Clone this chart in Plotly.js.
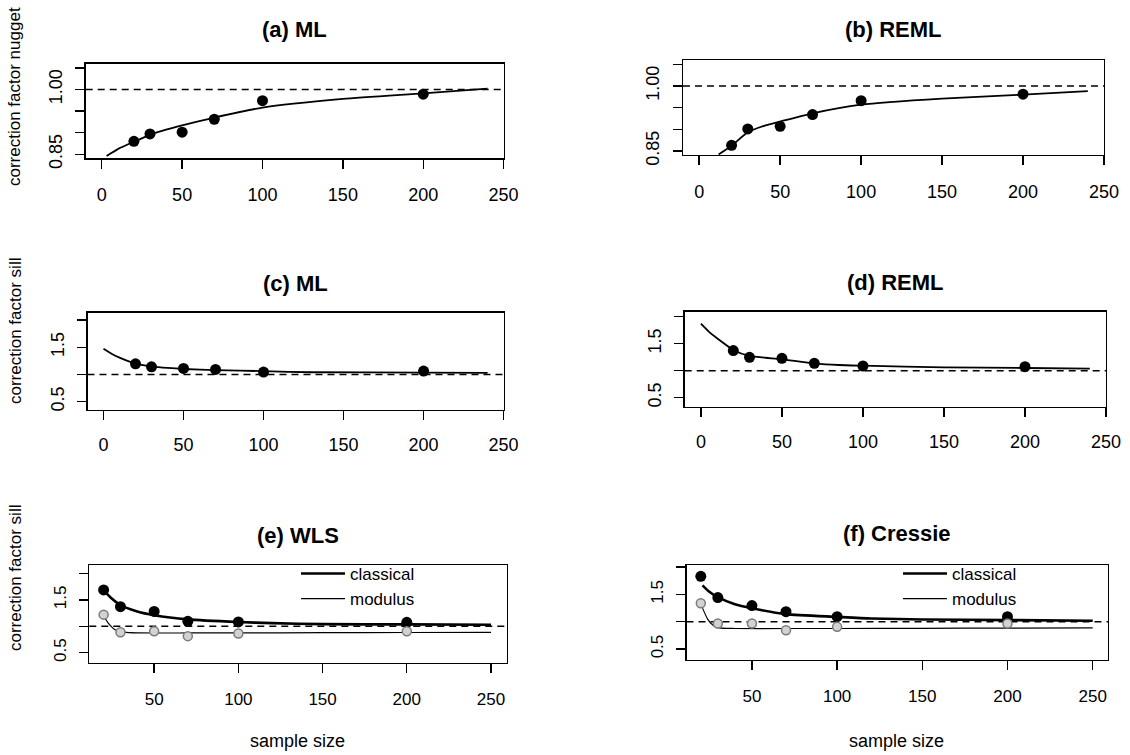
<!DOCTYPE html>
<html>
<head>
<meta charset="utf-8">
<script src="https://cdn.plot.ly/plotly-3.0.1.min.js"></script>
<style>html,body{margin:0;padding:0;background:#fff;}#chart{width:1130px;height:755px;}</style>
</head>
<body>
<div id="chart"></div>
<script>
// ---------------- data ----------------
const sampleSizes = [20, 30, 50, 70, 100, 200];
const referenceLevel = 1.0;

const panelTitles = ["(a) ML", "(b) REML", "(c) ML", "(d) REML", "(e) WLS", "(f) Cressie"];
const yTitleNugget = "correction factor nugget";
const yTitleSill = "correction factor sill";
const xTitle = "sample size";
const legendNames = ["classical", "modulus"];

const xTickValsFull = [0, 50, 100, 150, 200, 250];
const xTickValsBottom = [50, 100, 150, 200, 250];
const xTickTextFull = ["0", "50", "100", "150", "200", "250"];
const xTickTextBottom = ["50", "100", "150", "200", "250"];
const yTickValsNugget = [0.85, 0.90, 0.95, 1.00, 1.05];
const yTickTextNugget = ["0.85", "", "", "1.00", ""];
const yTickValsSill = [0.5, 1.0, 1.5, 2.0];
const yTickTextSill = ["0.5", "", "1.5", ""];

// (a) ML nugget
const mlNuggetPts = [0.880, 0.897, 0.901, 0.931, 0.974, 0.989];
const mlNuggetCurveX = [3, 10, 20, 30, 40, 50, 70, 100, 150, 200, 240];
const mlNuggetCurveY = [0.846, 0.862, 0.879, 0.895, 0.907, 0.917, 0.935, 0.958, 0.978, 0.991, 1.002];
// (b) REML nugget
const remlNuggetPts = [0.863, 0.901, 0.907, 0.934, 0.966, 0.981];
const remlNuggetCurveX = [12, 20, 30, 40, 50, 70, 100, 150, 200, 240];
const remlNuggetCurveY = [0.842, 0.862, 0.893, 0.908, 0.918, 0.937, 0.957, 0.971, 0.980, 0.988];
// (c) ML sill
const mlSillPts = [1.196, 1.141, 1.110, 1.092, 1.043, 1.061];
const mlSillCurveX = [0, 5, 10, 20, 30, 40, 50, 70, 100, 130, 200, 240];
const mlSillCurveY = [1.47, 1.38, 1.31, 1.20, 1.15, 1.12, 1.10, 1.08, 1.06, 1.04, 1.035, 1.03];
// (d) REML sill
const remlSillPts = [1.373, 1.248, 1.230, 1.137, 1.087, 1.075];
const remlSillCurveX = [0, 5, 10, 20, 30, 40, 50, 70, 85, 100, 150, 200, 240];
const remlSillCurveY = [1.87, 1.72, 1.60, 1.385, 1.273, 1.24, 1.211, 1.137, 1.106, 1.093, 1.062, 1.05, 1.037];
// (e) WLS sill
const wlsClassicalPts = [1.687, 1.370, 1.280, 1.094, 1.081, 1.075];
const wlsClassicalCurveX = [20, 25, 30, 40, 50, 70, 100, 120, 150, 200, 250];
const wlsClassicalCurveY = [1.68, 1.52, 1.40, 1.28, 1.21, 1.13, 1.08, 1.06, 1.04, 1.035, 1.03];
const wlsModulusPts = [1.220, 0.888, 0.906, 0.813, 0.863, 0.906];
const wlsModulusCurveX = [20, 23, 27, 32, 40, 70, 100, 150, 200, 250];
const wlsModulusCurveY = [1.20, 1.05, 0.93, 0.89, 0.875, 0.873, 0.875, 0.878, 0.882, 0.885];
// (f) Cressie sill
const cressieClassicalPts = [1.833, 1.444, 1.296, 1.185, 1.093, 1.093];
const cressieClassicalCurveX = [21, 25, 30, 40, 50, 70, 100, 120, 150, 200, 250];
const cressieClassicalCurveY = [1.667, 1.55, 1.45, 1.32, 1.247, 1.14, 1.09, 1.06, 1.043, 1.031, 1.02];
const cressieModulusPts = [1.340, 0.970, 0.970, 0.846, 0.907, 0.970];
const cressieModulusCurveX = [21, 24, 27, 31, 40, 70, 100, 150, 200, 250];
const cressieModulusCurveY = [1.25, 1.05, 0.94, 0.889, 0.877, 0.877, 0.877, 0.88, 0.885, 0.889];

// ---------------- layout ----------------
const W = 1130, H = 755;
const FONT = "Liberation Sans, Arial, Helvetica, sans-serif";

// box: [left, right, top, bottom] in px
const panels = [
  {box: [85.7, 503.6, 63.5, 158.3], xr: [-10, 250], yr: [0.8407, 1.060], kind: "nugget", row: 0, titleY: 30},
  {box: [683, 1104, 60, 155], xr: [-10, 250], yr: [0.8407, 1.060], kind: "nugget", row: 0, titleY: 30},
  {box: [87.5, 503.6, 312.7, 410], xr: [-10, 250], yr: [0.347, 2.134], kind: "sill", row: 1, titleY: 283},
  {box: [684.7, 1106, 311.7, 406.7], xr: [-10, 250], yr: [0.333, 2.093], kind: "sill", row: 1, titleY: 282},
  {box: [89.3, 507, 565, 662.7], xr: [11.5, 259.5], yr: [0.31, 2.16], kind: "sill", row: 2, titleY: 535},
  {box: [686.5, 1108, 565, 660], xr: [11.6, 259], yr: [0.30, 2.04], kind: "sill", row: 2, titleY: 533}
];

const layout = {
  width: W, height: H,
  margin: {l: 0, r: 0, t: 0, b: 0},
  paper_bgcolor: "#ffffff", plot_bgcolor: "#ffffff",
  font: {family: FONT, color: "#000"},
  showlegend: true,
  annotations: [], shapes: []
};

panels.forEach((p, i) => {
  const n = i === 0 ? "" : String(i + 1);
  const [L, R, T, B] = p.box;
  const bottomRow = p.row === 2;
  const tickSize = bottomRow ? 17 : 18;
  layout["xaxis" + n] = {
    domain: [L / W, R / W], range: p.xr, anchor: "y" + n,
    showline: true, mirror: true, linecolor: "#000", linewidth: 1.4,
    ticks: "outside", ticklen: 9, tickwidth: 1.4, tickcolor: "#000",
    showgrid: false, zeroline: false,
    tickmode: "array",
    tickvals: bottomRow ? xTickValsBottom : xTickValsFull,
    ticktext: bottomRow ? xTickTextBottom : xTickTextFull,
    tickfont: {family: FONT, size: tickSize, color: "#000"},
    ticklabelstandoff: p.row === 1 ? 9 : 11
  };
  layout["yaxis" + n] = {
    domain: [1 - B / H, 1 - T / H], range: p.yr, anchor: "x" + n,
    showline: true, mirror: true, linecolor: "#000", linewidth: 1.4,
    ticks: "outside", ticklen: 9, tickwidth: 1.4, tickcolor: "#000",
    showgrid: false, zeroline: false,
    tickmode: "array",
    tickvals: p.kind === "nugget" ? yTickValsNugget : yTickValsSill,
    ticktext: p.kind === "nugget" ? yTickTextNugget : yTickTextSill,
    tickangle: -90,
    tickfont: {family: FONT, size: tickSize, color: "#000"},
    ticklabelstandoff: 6
  };
  // panel title
  layout.annotations.push({
    text: "<b>" + panelTitles[i] + "</b>", xref: "paper", yref: "paper",
    x: ((L + R) / 2) / W, y: 1 - p.titleY / H, xanchor: "center", yanchor: "middle",
    showarrow: false, font: {family: FONT, size: 22, color: "#000"}
  });
  // dashed reference line
  layout.shapes.push({
    type: "line", xref: "x" + n + " domain", yref: "y" + n,
    x0: 0, x1: 1, y0: referenceLevel, y1: referenceLevel,
    line: {color: "#000", width: 1.4, dash: "7px,5px"}, layer: "below"
  });
});

// y axis titles (left column) and x titles (bottom row)
[[yTitleNugget, 97], [yTitleSill, 331], [yTitleSill, 578]].forEach(([t, y]) => {
  layout.annotations.push({
    text: t, xref: "paper", yref: "paper", x: 15 / W, y: 1 - y / H,
    xanchor: "center", yanchor: "middle", textangle: -90, showarrow: false,
    font: {family: FONT, size: 17, color: "#000"}
  });
});
[[297, 741], [896, 741]].forEach(([x, y]) => {
  layout.annotations.push({
    text: xTitle, xref: "paper", yref: "paper", x: x / W, y: 1 - y / H,
    xanchor: "center", yanchor: "middle", showarrow: false,
    font: {family: FONT, size: 18, color: "#000"}
  });
});

const legendStyle = {
  bgcolor: "rgba(0,0,0,0)", borderwidth: 0, font: {family: FONT, size: 17, color: "#000"},
  xanchor: "left", yanchor: "top", itemwidth: 44, tracegroupgap: 0, traceorder: "normal"
};
layout.legend = Object.assign({}, legendStyle, {x: 296 / W, y: 1 - 556 / H});
layout.legend2 = Object.assign({}, legendStyle, {x: 898 / W, y: 1 - 556 / H});

// ---------------- traces ----------------
const traces = [];
function curve(n, xs, ys, width, name, legend) {
  traces.push({
    type: "scatter", mode: "lines", x: xs, y: ys, xaxis: "x" + n, yaxis: "y" + n,
    line: {color: "#000", width: width, shape: "spline", smoothing: 0.6},
    name: name || "", showlegend: !!name, legend: legend || "legend", hoverinfo: "skip"
  });
}
function dots(n, ys, filled) {
  traces.push({
    type: "scatter", mode: "markers", x: sampleSizes, y: ys, xaxis: "x" + n, yaxis: "y" + n,
    marker: filled ? {color: "#000", size: 11, symbol: "circle"}
                   : {color: "#d2d2d2", size: 9, symbol: "circle", line: {color: "#7a7a7a", width: 1.5}},
    showlegend: false, hoverinfo: "skip"
  });
}
curve("", mlNuggetCurveX, mlNuggetCurveY, 1.8); dots("", mlNuggetPts, true);
curve("2", remlNuggetCurveX, remlNuggetCurveY, 1.8); dots("2", remlNuggetPts, true);
curve("3", mlSillCurveX, mlSillCurveY, 1.8); dots("3", mlSillPts, true);
curve("4", remlSillCurveX, remlSillCurveY, 1.8); dots("4", remlSillPts, true);
curve("5", wlsClassicalCurveX, wlsClassicalCurveY, 2.6, legendNames[0], "legend");
curve("5", wlsModulusCurveX, wlsModulusCurveY, 1.2, legendNames[1], "legend");
dots("5", wlsClassicalPts, true); dots("5", wlsModulusPts, false);
curve("6", cressieClassicalCurveX, cressieClassicalCurveY, 2.6, legendNames[0], "legend2");
curve("6", cressieModulusCurveX, cressieModulusCurveY, 1.2, legendNames[1], "legend2");
dots("6", cressieClassicalPts, true); dots("6", cressieModulusPts, false);

Plotly.newPlot("chart", traces, layout, {displayModeBar: false, staticPlot: true});
</script>
</body>
</html>
